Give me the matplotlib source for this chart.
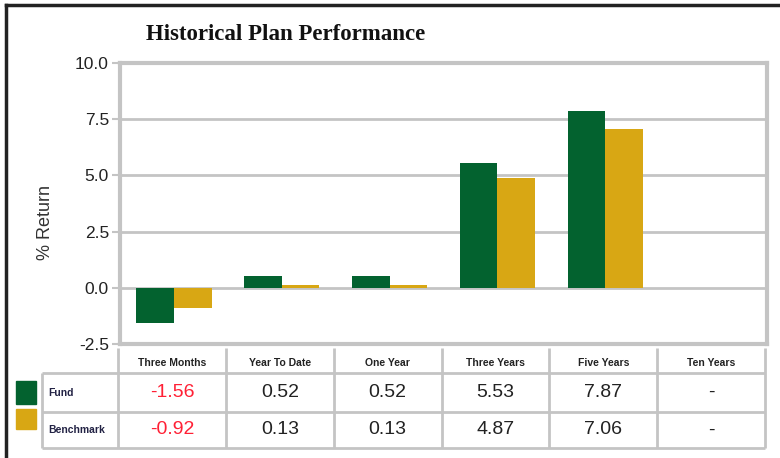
#!/usr/bin/env python3
import numpy as np
import matplotlib
matplotlib.use('Agg')
import matplotlib.pyplot as plt

categories = ['Three Months', 'Year To Date', 'One Year', 'Three Years', 'Five Years', 'Ten Years']
fund = [-1.56, 0.52, 0.52, 5.53, 7.87, np.nan]
benchmark = [-0.92, 0.13, 0.13, 4.87, 7.06, np.nan]
series_names = ['Fund', 'Benchmark']
yticks = [-2.5, 0.0, 2.5, 5.0, 7.5, 10.0]

GREEN = '#03622f'
GOLD = '#d8a714'
GRID = '#c4c4c4'
W, H = 780, 458


def fmt(v):
    return '-' if np.isnan(v) else f'{v:.2f}'


def main():
    plt.rcParams['font.family'] = ['Liberation Sans', 'DejaVu Sans']
    fig = plt.figure(figsize=(W / 100, H / 100), dpi=100)

    # plot area in pixel coords
    x0, x1, ytop, ybot = 120, 767, 63, 344
    ax = fig.add_axes([x0 / W, 1 - ybot / H, (x1 - x0) / W, (ybot - ytop) / H])
    x = np.arange(len(categories))
    bw = 0.35
    ax.bar(x - bw / 2, fund, bw, color=GREEN, zorder=3)
    ax.bar(x + bw / 2, benchmark, bw, color=GOLD, zorder=3)
    ax.set_xlim(-0.5, len(categories) - 0.5)
    ax.set_ylim(-2.5, 10.0)
    ax.set_yticks(yticks)
    ax.set_yticklabels([f'{t:.1f}' for t in yticks], fontsize=12.5, color='#222222')
    ax.set_xticks([])
    ax.yaxis.grid(True, color=GRID, linewidth=2, zorder=0)
    ax.tick_params(axis='y', length=6, width=1.5, color=GRID, pad=2)
    for s in ax.spines.values():
        s.set_color(GRID)
        s.set_linewidth(3)
    ax.set_ylabel('% Return', fontsize=13, color='#333333')
    ax.yaxis.set_label_coords(-0.102, 0.434)

    # overlay in pixel coords for title, table, frame
    ov = fig.add_axes([0, 0, 1, 1], zorder=-1)
    ov.set_xlim(0, W)
    ov.set_ylim(H, 0)
    ov.axis('off')
    ov.plot([6, W], [5, 5], color='#222222', lw=2.5)
    ov.plot([6, 6], [5, H], color='#222222', lw=2.5)
    ov.text(286, 35, 'Historical Plan Performance', fontsize=16.5, fontweight='bold',
            family='Liberation Serif', ha='center', va='center', color='#111111')

    colw = (x1 - x0) / len(categories)
    edges = [x0 - 2 + i * colw for i in range(len(categories) + 1)]
    y_head, y_r1, y_r2, y_end = 348, 373, 412, 448
    lab_left = 42
    lkw = dict(color=GRID, lw=2, solid_capstyle='butt')
    for e in edges:
        ov.plot([e, e], [y_head, y_end], **lkw)
    ov.plot([lab_left, lab_left], [y_r1, y_end], **lkw)
    for yy in [y_r1, y_r2, y_end]:
        ov.plot([lab_left, edges[-1]], [yy, yy], **lkw)

    for i, c in enumerate(categories):
        cx = (edges[i] + edges[i + 1]) / 2
        ov.text(cx, (y_head + y_r1) / 2 + 2, c, fontsize=7.5, fontweight='bold',
                ha='center', va='center', color='#222222')
        for vals, yc in [(fund, (y_r1 + y_r2) / 2), (benchmark, (y_r2 + y_end) / 2)]:
            v = vals[i]
            col = '#ff2035' if (not np.isnan(v) and v < 0) else '#222222'
            ov.text(cx, yc, fmt(v), fontsize=14, ha='center', va='center', color=col)

    for name, col, yc, (sq0, sq1) in [(series_names[0], GREEN, (y_r1 + y_r2) / 2, (381, 404)),
                                      (series_names[1], GOLD, (y_r2 + y_end) / 2, (409, 429))]:
        ov.add_patch(plt.Rectangle((16, sq0), 20, sq1 - sq0, color=col))
        ov.text(lab_left + 6, yc, name, fontsize=7.5, fontweight='bold',
                ha='left', va='center', color='#222244')

    fig.savefig('out.png', dpi=100)


if __name__ == '__main__':
    main()
